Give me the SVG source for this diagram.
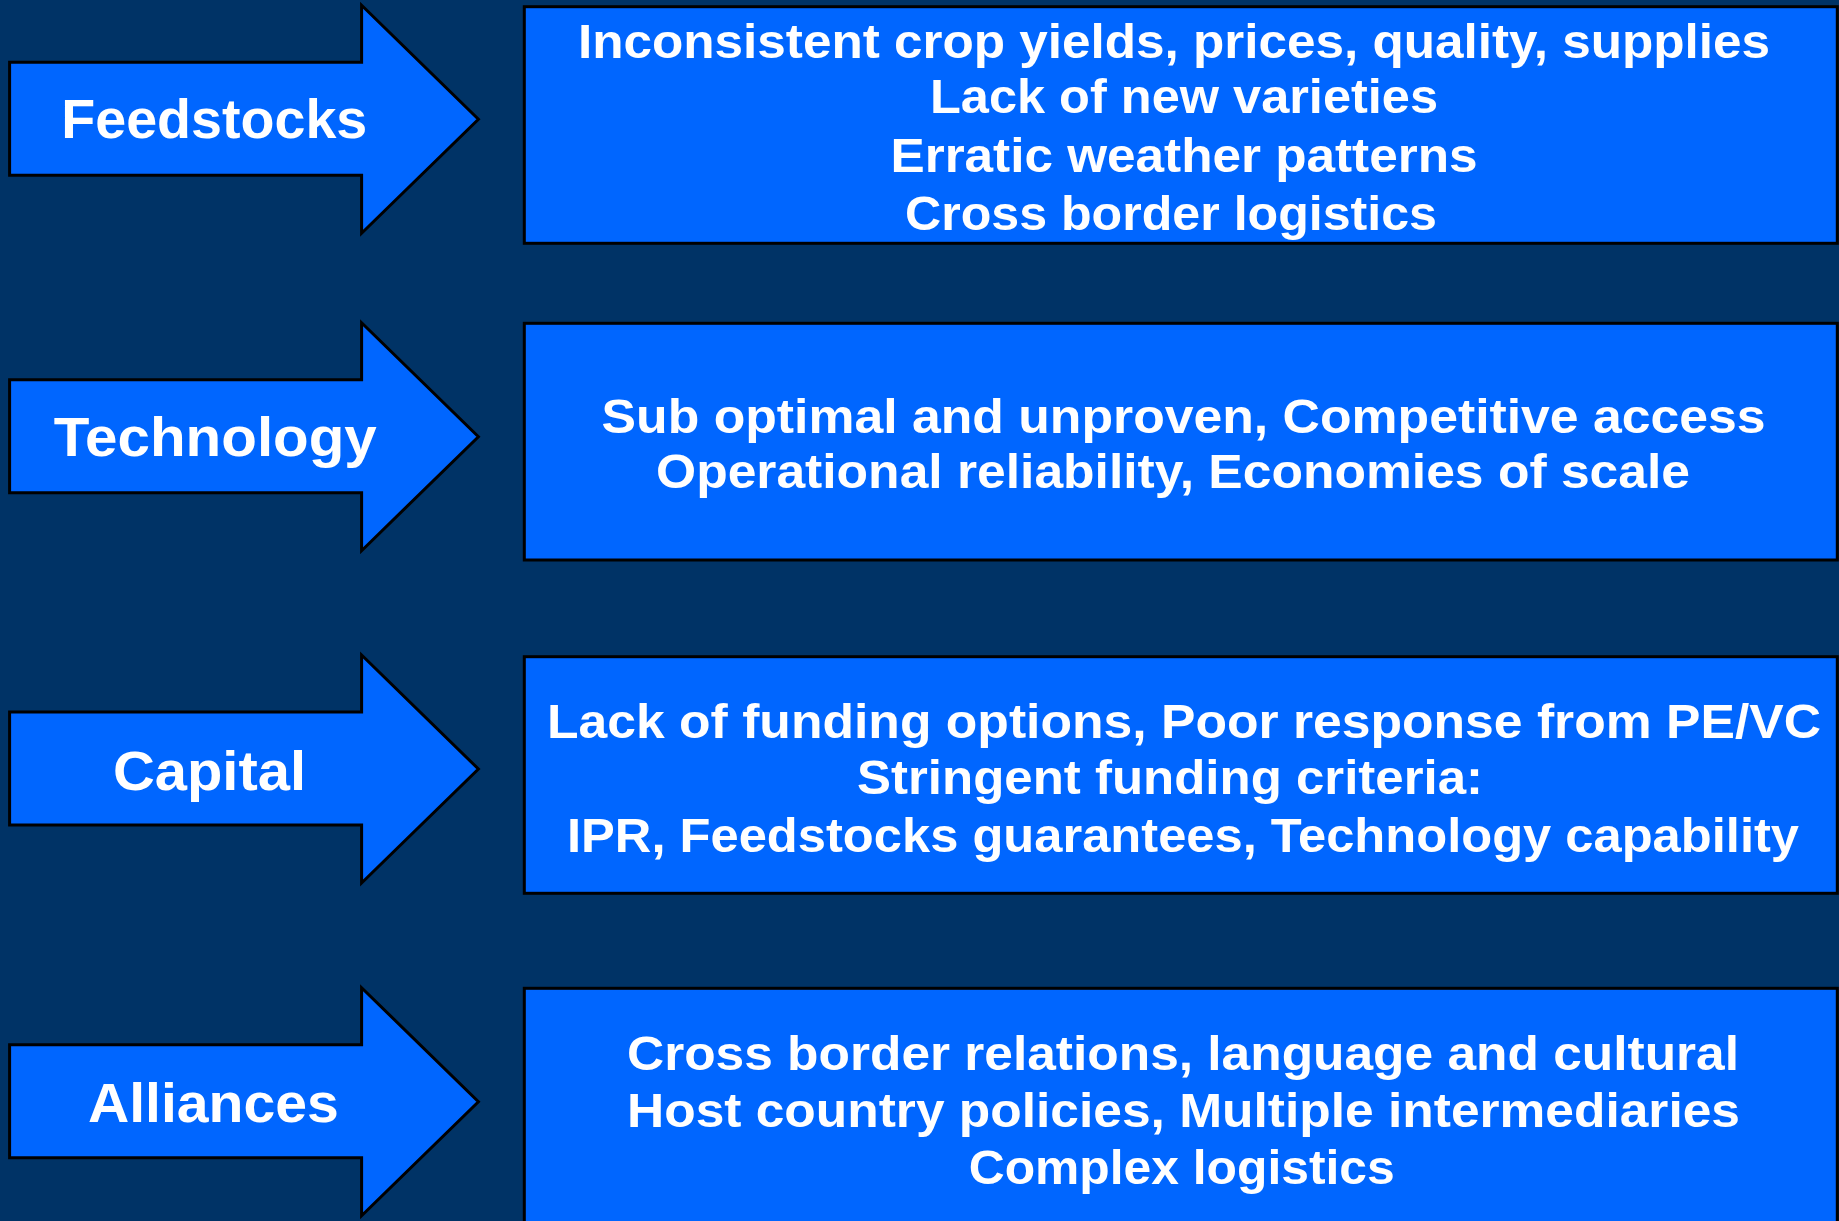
<svg xmlns="http://www.w3.org/2000/svg" width="1839" height="1221" viewBox="0 0 1839 1221">
<style>
.bg{fill:#003366}
.shape{fill:#0066FF;stroke:#000;stroke-width:3;stroke-linejoin:miter}
.lbl{font-family:"Liberation Sans",Arial,sans-serif;font-weight:700;fill:#fff;text-anchor:middle;font-size:56px}
.txt{font-family:"Liberation Sans",Arial,sans-serif;font-weight:700;fill:#fff;text-anchor:middle;font-size:48.5px}
</style>
<rect class="bg" x="0" y="0" width="1839" height="1221"/>
<g id="connectors"></g>
<g id="arrow-feedstocks">
<path class="shape" d="M9.6,62.3 H361.6 V5.3 L478.4,119.3 L361.6,233.3 V175.3 H9.6 Z"/>
<text class="lbl" x="214.3" y="138.3" textLength="306" lengthAdjust="spacingAndGlyphs">Feedstocks</text>
</g>
<g id="box-feedstocks">
<rect class="shape" x="524.3" y="6.7" width="1313" height="236.6"/>
<text class="txt" x="1174" y="58.3" textLength="1192" lengthAdjust="spacingAndGlyphs">Inconsistent crop yields, prices, quality, supplies</text>
<text class="txt" x="1184" y="113.3" textLength="508" lengthAdjust="spacingAndGlyphs">Lack of new varieties</text>
<text class="txt" x="1184" y="171.7" textLength="587" lengthAdjust="spacingAndGlyphs">Erratic weather patterns</text>
<text class="txt" x="1171" y="230" textLength="532" lengthAdjust="spacingAndGlyphs">Cross border logistics</text>
</g>
<g id="arrow-technology">
<path class="shape" d="M9.6,379.7 H361.6 V322.7 L478.4,436.7 L361.6,550.7 V492.7 H9.6 Z"/>
<text class="lbl" x="215.3" y="456" textLength="323" lengthAdjust="spacingAndGlyphs">Technology</text>
</g>
<g id="box-technology">
<rect class="shape" x="524.3" y="323.3" width="1313" height="236.7"/>
<text class="txt" x="1183.6" y="433.3" textLength="1164" lengthAdjust="spacingAndGlyphs">Sub optimal and unproven, Competitive access</text>
<text class="txt" x="1173" y="488.3" textLength="1034" lengthAdjust="spacingAndGlyphs">Operational reliability, Economies of scale</text>
</g>
<g id="arrow-capital">
<path class="shape" d="M9.6,712 H361.6 V655 L478.4,769 L361.6,883 V825 H9.6 Z"/>
<text class="lbl" x="209.5" y="790" textLength="193" lengthAdjust="spacingAndGlyphs">Capital</text>
</g>
<g id="box-capital">
<rect class="shape" x="524.3" y="656.7" width="1313" height="236.6"/>
<text class="txt" x="1184" y="738.3" textLength="1274" lengthAdjust="spacingAndGlyphs">Lack of funding options, Poor response from PE/VC</text>
<text class="txt" x="1170" y="794" textLength="626" lengthAdjust="spacingAndGlyphs">Stringent funding criteria:</text>
<text class="txt" x="1183" y="851.7" textLength="1232" lengthAdjust="spacingAndGlyphs">IPR, Feedstocks guarantees, Technology capability</text>
</g>
<g id="arrow-alliances">
<path class="shape" d="M9.6,1044.7 H361.6 V987.7 L478.4,1101.7 L361.6,1215.7 V1157.7 H9.6 Z"/>
<text class="lbl" x="213.4" y="1122.3" textLength="251" lengthAdjust="spacingAndGlyphs">Alliances</text>
</g>
<g id="box-alliances">
<rect class="shape" x="524.3" y="988.3" width="1313" height="250"/>
<text class="txt" x="1183" y="1070" textLength="1112" lengthAdjust="spacingAndGlyphs">Cross border relations, language and cultural</text>
<text class="txt" x="1183.5" y="1126.7" textLength="1113" lengthAdjust="spacingAndGlyphs">Host country policies, Multiple intermediaries</text>
<text class="txt" x="1181.7" y="1184.3" textLength="426" lengthAdjust="spacingAndGlyphs">Complex logistics</text>
</g>
</svg>
